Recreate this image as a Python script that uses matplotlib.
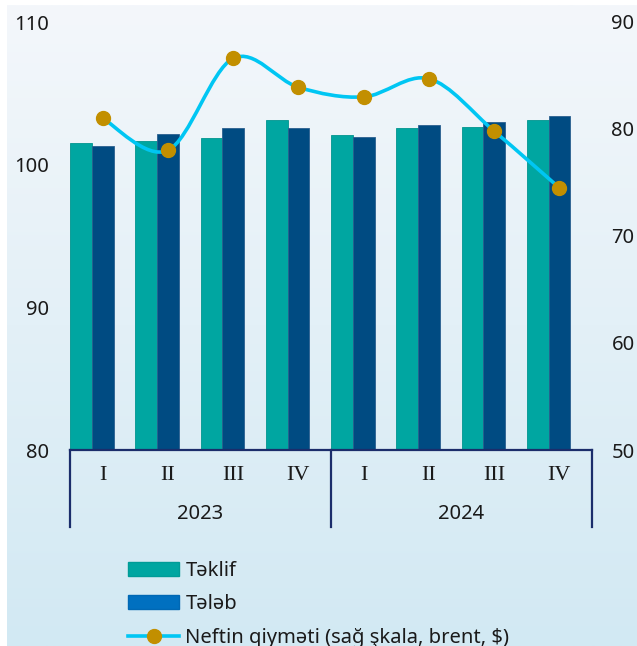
import numpy as np
import matplotlib
matplotlib.use("Agg")
import matplotlib.pyplot as plt
from matplotlib.path import Path
from matplotlib.patches import PathPatch, Patch
from matplotlib.lines import Line2D

quarters = ["I", "II", "III", "IV", "I", "II", "III", "IV"]
years = ["2023", "2024"]
teklif = [101.53, 101.63, 101.84, 103.10, 102.05, 102.54, 102.61, 103.15]
teleb = [101.28, 102.12, 102.54, 102.59, 101.93, 102.75, 102.96, 103.41]
neft = [81.0, 78.0, 86.6, 83.9, 83.0, 84.7, 79.8, 74.5]

TEAL = "#00a6a1"
NAVY = "#004b82"
LEGEND_BLUE = "#0070c0"
CYAN = "#00c6f3"
GOLD = "#c28f00"
AXIS = "#1b2d6b"
TXT = "#1a1a1a"

plt.rcParams["font.family"] = ["Noto Sans", "DejaVu Sans"]

fig = plt.figure(figsize=(6.37, 6.46), dpi=100)
W, H = 637, 646

# background gradient panel
bg = fig.add_axes([7 / W, 0, 1 - 7 / W, 1 - 5 / H], zorder=-10)
grad = np.linspace(0, 1, 256).reshape(-1, 1)
top = np.array(matplotlib.colors.to_rgb("#f4f7fb"))
bot = np.array(matplotlib.colors.to_rgb("#d2e9f3"))
img = top + (bot - top) * grad[:, :, None]
bg.imshow(img, aspect="auto", extent=[0, 1, 0, 1])
bg.axis("off")

ax = fig.add_axes([70 / W, 1 - 450 / H, 522 / W, 428 / H])
ax.patch.set_alpha(0)
x = np.arange(len(quarters))
w = 1 / 3
ax.bar(x - w, teklif, width=w, color=TEAL, edgecolor="#00958f", linewidth=0.6, zorder=2)
ax.bar(x, teleb, width=w, color=NAVY, edgecolor="#2a5f8f", linewidth=0.6, zorder=2)
ax.set_xlim(-0.5, len(quarters) - 0.5)
ax.set_ylim(80, 110)
ax.set_yticks([80, 90, 100, 110])
ax.tick_params(axis="y", length=0, pad=15, labelsize=14.5, labelcolor=TXT)
ax.set_xticks([])
for s in ["left", "right", "top"]:
    ax.spines[s].set_visible(False)
ax.spines["bottom"].set_color(AXIS)
ax.spines["bottom"].set_linewidth(1.6)

# category axis: quarters, years, separators
for xi, q in zip(x, quarters):
    ax.text(xi, -0.06, q, transform=ax.get_xaxis_transform(), ha="center", va="center",
            fontsize=16, family="Liberation Serif", color=TXT)
for k, yr in enumerate(years):
    ax.text(1.5 + 4 * k, -0.15, yr, transform=ax.get_xaxis_transform(), ha="center",
            va="center", fontsize=14.5, color=TXT)
for xs in [-0.5, 3.5, 7.5]:
    ax.axvline(xs, ymin=-0.18, ymax=0, color=AXIS, linewidth=1.6, clip_on=False)

ax2 = ax.twinx()
ax2.set_ylim(50, 90)
ax2.set_yticks([50, 60, 70, 80, 90])
ax2.tick_params(axis="y", length=0, pad=14, labelsize=14.5, labelcolor=TXT)
for s in ax2.spines.values():
    s.set_visible(False)

# smoothed line (Catmull-Rom as cubic Bezier)
pts = np.column_stack([x, neft]).astype(float)
verts = [pts[0]]
codes = [Path.MOVETO]
n = len(pts)
for i in range(n - 1):
    p0 = pts[max(i - 1, 0)]
    p1 = pts[i]
    p2 = pts[i + 1]
    p3 = pts[min(i + 2, n - 1)]
    c1 = p1 + (p2 - p0) / 6
    c2 = p2 - (p3 - p1) / 6
    verts += [c1, c2, p2]
    codes += [Path.CURVE4] * 3
ax2.add_patch(PathPatch(Path(verts, codes), facecolor="none", edgecolor=CYAN,
                        linewidth=2.6, zorder=3, capstyle="round"))
ax2.plot(x, neft, linestyle="none", marker="o", markersize=10, color=GOLD, zorder=4)

handles = [
    Patch(facecolor=TEAL, edgecolor="#009c97"),
    Patch(facecolor=LEGEND_BLUE, edgecolor="#0068b4"),
    Line2D([], [], color=CYAN, linewidth=2.6, marker="o", markersize=10,
           markerfacecolor=GOLD, markeredgecolor=GOLD),
]
labels = ["Təklif", "Tələb", "Neftin qiyməti (sağ şkala, brent, $)"]
fig.legend(handles, labels, loc="upper left", bbox_to_anchor=(128 / W, 1 - 561 / H),
           frameon=False, fontsize=14.5, borderpad=0, borderaxespad=0,
           handlelength=2.55, handletextpad=0.3, labelspacing=0.66, labelcolor=TXT)

fig.savefig("out.png", dpi=100)
